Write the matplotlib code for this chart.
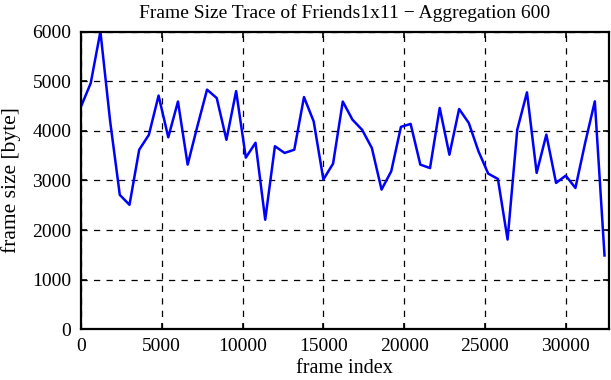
import numpy as np
import matplotlib
matplotlib.use("Agg")
import matplotlib.pyplot as plt

# valores (agregacion de 600 frames)
AGREGACION = 600
tamanos = [4490, 4960, 6000, 4200, 2710, 2510, 3620, 3920, 4710, 3870,
           4590, 3320, 4090, 4830, 4660, 3820, 4800, 3460, 3760, 2210,
           3690, 3555, 3620, 4680, 4190, 3020, 3340, 4590, 4225, 4020,
           3655, 2817, 3186, 4080, 4140, 3320, 3250, 4460, 3520, 4440,
           4158, 3588, 3139, 3032, 1811, 4024, 4775, 3153, 3924, 2951,
           3098, 2850, 3756, 4594, 1490]
indices = [i * AGREGACION for i in range(len(tamanos))]
xticks = [0, 5000, 10000, 15000, 20000, 25000, 30000]
yticks = [0, 1000, 2000, 3000, 4000, 5000, 6000]

plt.rcParams['font.family'] = ['Liberation Serif', 'DejaVu Serif']
plt.rcParams['font.size'] = 14

fig = plt.figure(figsize=(6.11, 3.8), dpi=100)
ax = fig.add_axes([0.1326, 0.133, 0.8634, 0.784])

ax.plot(indices, tamanos, color='#0000ff', linewidth=1.8)

ax.set_xlim(0, 32650)
ax.set_ylim(0, 6000)
ax.set_xticks(xticks)
ax.set_yticks(yticks)
ax.grid(True, color='black', linestyle=(0, (5, 5)), linewidth=0.9)
ax.tick_params(direction='in', top=True, right=True, length=4, width=1.2,
               labelsize=14)
ax.tick_params(axis='x', pad=6)
ax.tick_params(axis='y', pad=7)
for s in ax.spines.values():
    s.set_linewidth(1.6)

ax.set_xlabel('frame index', fontsize=14.5, labelpad=3)
ax.set_ylabel('frame size [byte]', fontsize=15.5, labelpad=8)
ax.set_title('Frame Size Trace of Friends1x11 \u2212 Aggregation 600', fontsize=14, pad=10)

plt.savefig('out.png', dpi=100)
